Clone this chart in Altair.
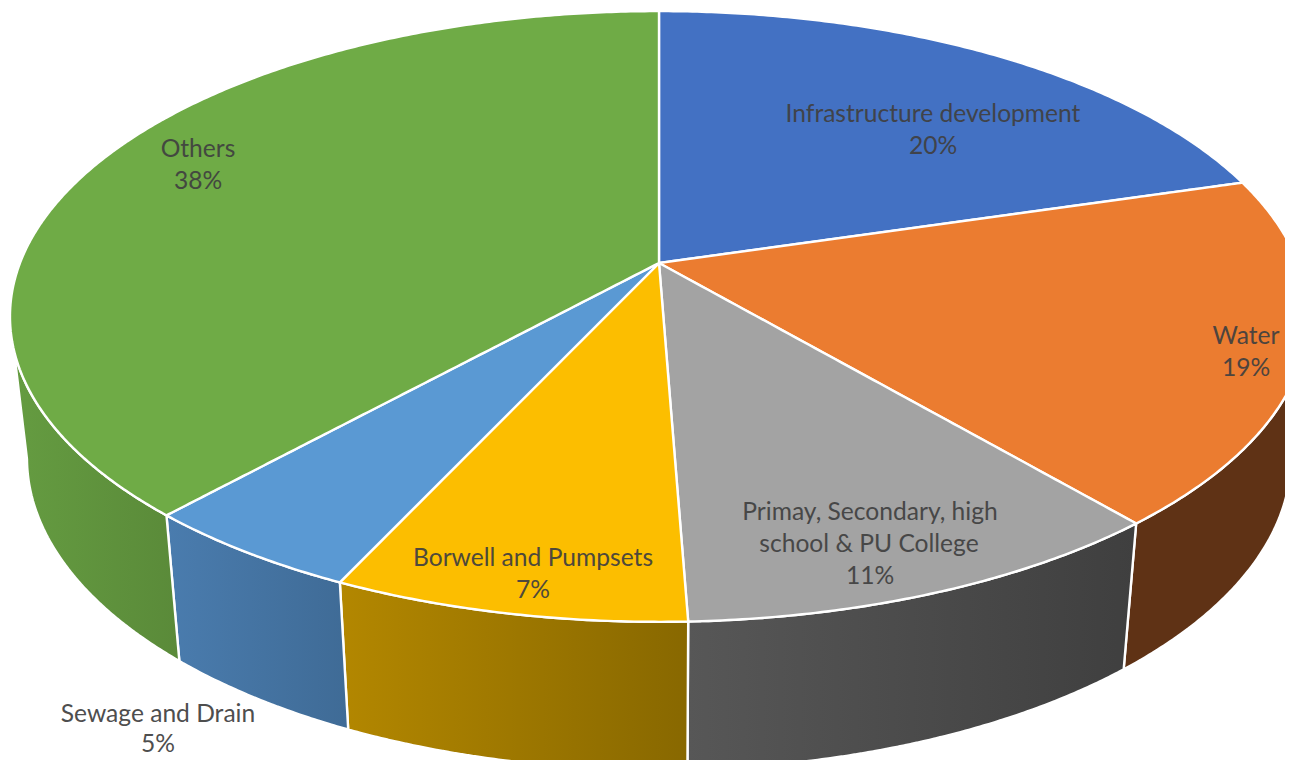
import math
import altair as alt
import pandas as pd

# ---- data ----
CATEGORIES = ["Infrastructure development", "Water",
              "Primay, Secondary, high school & PU College",
              "Borwell and Pumpsets", "Sewage and Drain", "Others"]
SHARES = [20.4, 18.4, 10.6, 7.5, 4.8, 38.3]
TOP_COLORS = ["#4371c3", "#eb7c30", "#a3a3a3", "#fcbe00", "#5a99d3", "#6fab46"]
WALL_COLORS = [("#2f5597", "#2f5597"), ("#5f3215", "#5f3215"), ("#575757", "#3f3f3f"),
               ("#b38700", "#886800"), ("#4a7cae", "#3f6b96"), ("#659c41", "#5a8a39")]

# ---- layout ----
W, H, OFF = 1277, 752, 8
APEX_X, APEX_Y = 659.0, 263.0
TILT, B, A = 0.1751, 296.0, 639.0
RX, RY, CY = 649.0, 305.5, 316.5
RX2, RY2, CY2 = 632.0, 312.0, 458.0
FONT, FS = "Lato", 24.6
LABELS = [
    ("Infrastructure development", 933, 115), ("20%", 933, 147),
    ("Water", 1246, 337), ("19%", 1246, 369),
    ("Primay, Secondary, high", 870, 513), ("school & PU College", 869, 545), ("11%", 870, 577),
    ("Borwell and Pumpsets", 533, 559), ("7%", 533, 591),
    ("Sewage and Drain", 158, 715), ("5%", 158, 745),
    ("Others", 198, 150), ("38%", 198, 182),
]


def rim(theta):
    """Point of the pie's top rim for an angle in degrees, clockwise from 12 o'clock."""
    u, v = math.sin(math.radians(theta)), -math.cos(math.radians(theta))
    w = 1 - TILT * v
    return A * u / w, B * v / w


def envelope(poly):
    """Turn a convex polygon into x / y / y2 rows for an area mark."""
    xs = sorted({round(p[0], 2) for p in poly})
    rows = []
    n = len(poly)
    for x in xs:
        ys = []
        for i in range(n):
            x0, y0 = poly[i]
            x1, y1 = poly[(i + 1) % n]
            lo, hi = min(x0, x1) - 0.006, max(x0, x1) + 0.006
            if lo <= x <= hi:
                if abs(x1 - x0) < 1e-6:
                    ys += [y0, y1]
                else:
                    t = max(0, min(1, (x - x0) / (x1 - x0)))
                    ys.append(y0 + t * (y1 - y0))
        rows.append({"x": x, "y": min(ys), "y2": max(ys)})
    return pd.DataFrame(rows)


x_enc = alt.X("x:Q", scale=alt.Scale(domain=[OFF, OFF + W], nice=False, zero=False), axis=None)
y_enc = alt.Y("y:Q", scale=alt.Scale(domain=[OFF, OFF + H], reverse=True, nice=False, zero=False), axis=None)

walls, tops = [], []
start = 0.0
total = sum(SHARES)
for share, top_c, wall_c in zip(SHARES, TOP_COLORS, WALL_COLORS):
    t0, t1 = start, start + share / total * 360
    start = t1
    steps = max(2, int((t1 - t0) * 2))
    thetas = [t0 + (t1 - t0) * i / steps for i in range(steps + 1)]
    pts = [rim(t) for t in thetas]
    top_poly = [(APEX_X, APEX_Y)] + [(APEX_X + X, APEX_Y + Y) for X, Y in pts]
    tops.append(
        alt.Chart(envelope(top_poly)).mark_area(
            color=top_c, stroke="white", strokeWidth=2.4, clip=True, interpolate="linear"
        ).encode(x=x_enc, y=y_enc, y2="y2:Q")
    )
    upper, lower = [], []
    for X, Y in pts:
        ex, ey = X / RX, (Y + APEX_Y - CY) / RY
        if ey < 0.0:
            continue
        upper.append((APEX_X + X, APEX_Y + Y))
        lower.append((APEX_X + RX2 * ex, CY2 + RY2 * ey))
    if len(upper) > 1:
        wall_poly = upper + lower[::-1]
        fill = alt.Gradient(
            gradient="linear",
            stops=[alt.GradientStop(color=wall_c[0], offset=0), alt.GradientStop(color=wall_c[1], offset=1)],
            x1=0, x2=1, y1=0, y2=0,
        )
        walls.append(
            alt.Chart(envelope(wall_poly)).mark_area(
                color=fill, stroke="white", strokeWidth=2.4, clip=True, interpolate="linear"
            ).encode(x=x_enc, y=y_enc, y2="y2:Q")
        )

texts = [
    alt.Chart(pd.DataFrame({"t": [line]})).mark_text(
        font=FONT, fontSize=FS, color="#404040", opacity=0.92, align="center", baseline="middle"
    ).encode(text="t:N", x=alt.value(px - OFF), y=alt.value(py - OFF))
    for line, px, py in LABELS
]

chart = alt.layer(*walls, *tops, *texts).properties(
    width=W, height=H, padding=0, autosize=alt.AutoSizeParams(type="none")
).configure_view(stroke=None)

chart.save("out.html", embed_options={"renderer": "svg", "actions": False})
